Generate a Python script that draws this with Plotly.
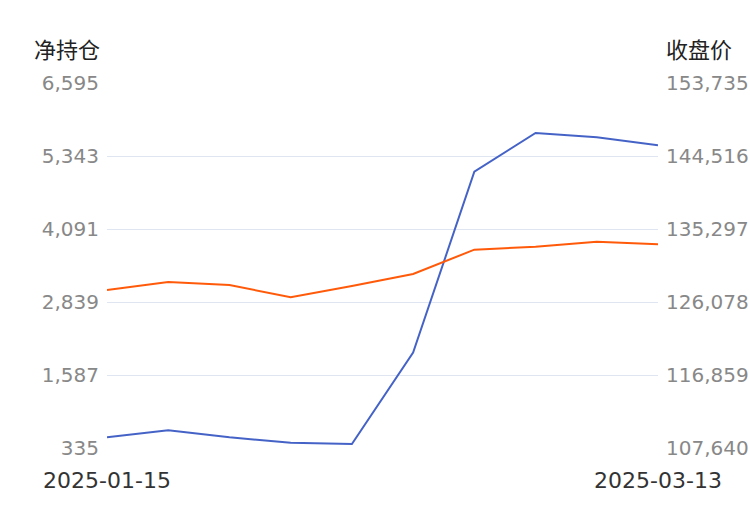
import plotly.graph_objects as go

dates = ['2025-01-15', '2025-01-22', '2025-02-05', '2025-02-12', '2025-02-19',
         '2025-02-26', '2025-03-04', '2025-03-07', '2025-03-11', '2025-03-13']
net_position = [518, 639, 518, 426, 404, 1970, 5074, 5738, 5664, 5526]
close_price = [127595, 128606, 128227, 126673, 128101, 129616, 132685, 133064, 133696, 133367]

left_ticks = [335, 1587, 2839, 4091, 5343, 6595]
right_ticks = [107640, 116859, 126078, 135297, 144516, 153735]

BLUE = '#4563c7'
ORANGE = '#ff5a0a'
GRID = '#e0e6f1'
FONT = 'DejaVu Sans, Noto Sans CJK SC'

W, H = 750, 510
L, R, T, B = 107, 92, 83, 62

fig = go.Figure()
fig.add_trace(go.Scatter(x=dates, y=net_position, mode='lines', name='净持仓',
                         line=dict(color=BLUE, width=2), yaxis='y'))
fig.add_trace(go.Scatter(x=dates, y=close_price, mode='lines', name='收盘价',
                         line=dict(color=ORANGE, width=2), yaxis='y2'))

fig.update_layout(
    width=W, height=H,
    margin=dict(l=L, r=R, t=T, b=B),
    plot_bgcolor='white', paper_bgcolor='white',
    showlegend=False,
    font=dict(family=FONT),
    xaxis=dict(type='category', range=[0, len(dates) - 1], automargin=False,
               tickvals=[dates[0], dates[-1]], ticktext=[dates[0], dates[-1]],
               showgrid=False, zeroline=False, showline=False, ticks='',
               ticklabelstandoff=17,
               tickfont=dict(size=22, color='#333333')),
    yaxis=dict(range=[left_ticks[0], left_ticks[-1]], tickvals=left_ticks,
               tickformat=',d', showgrid=True, gridcolor=GRID, gridwidth=1,
               zeroline=False, showline=False, ticks='', ticklabelstandoff=7,
               automargin=False,
               tickfont=dict(size=20, color='#888888')),
    yaxis2=dict(range=[right_ticks[0], right_ticks[-1]], tickvals=right_ticks,
                tickformat=',d', overlaying='y', side='right', showgrid=False,
                zeroline=False, showline=False, ticks='', ticklabelstandoff=7,
                automargin=False,
                tickfont=dict(size=20, color='#888888')),
)

# axis titles, placed in pixel terms above each y axis
pw = W - L - R
ph = H - T - B
for text, px in [('净持仓', 67), ('收盘价', 699)]:
    fig.add_annotation(text=text, x=(px - L) / pw, y=(ph + T - 48) / ph,
                       xref='paper', yref='paper', showarrow=False,
                       xanchor='center', yanchor='middle',
                       font=dict(size=22, color='#222222', family='Noto Sans CJK SC'))

# drop the default page margin so the figure fills the window exactly
fig.write_html("out.html", config={'displayModeBar': False},
               post_script="document.body.style.margin='0';")
